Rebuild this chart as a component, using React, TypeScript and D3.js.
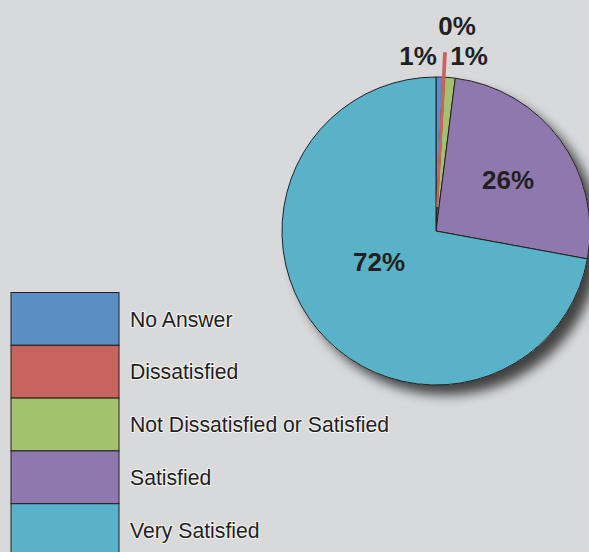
import React from 'react';
import * as d3 from 'd3';

// slice values (share of answers, %)
const categories = ['No Answer', 'Dissatisfied', 'Not Dissatisfied or Satisfied', 'Satisfied', 'Very Satisfied'];
const values = [0.7, 0.2, 1.1, 25.9, 72.1];
const labels = ['1%', '0%', '1%', '26%', '72%'];
const colors = ['#5b8ec2', '#c8645e', '#a3c16f', '#8e78ae', '#59b2c8'];

const W = 589;
const H = 552;
const cx = 436;
const cy = 231;
const R = 154;

// label spots relative to pie centre
const labelOffsets: [number, number][] = [[-18, -175], [21, -205], [33, -175], [72, -51], [-57, 31]];

export default function App() {
  const pie = d3.pie<number>().sort(null).value((d) => d);
  const arcs = pie(values);
  const arc = d3.arc<d3.PieArcDatum<number>>().innerRadius(0).outerRadius(R);

  const rowH = 52.8;
  const legendTop = 292.5;

  return (
    <div style={{ position: 'absolute', left: 0, top: 0 }}>
      <svg width={W} height={H} style={{ display: 'block', fontFamily: 'Liberation Sans, Arial, sans-serif' }}>
        <defs>
          <filter id="shadow" x="-20%" y="-20%" width="150%" height="150%">
            <feGaussianBlur in="SourceAlpha" stdDeviation="6" />
            <feOffset dx="10" dy="10" result="blur" />
            <feComponentTransfer>
              <feFuncA type="linear" slope="0.7" />
            </feComponentTransfer>
            <feMerge>
              <feMergeNode />
              <feMergeNode in="SourceGraphic" />
            </feMerge>
          </filter>
        </defs>
        <rect width={W} height={H} fill="#d8d9db" />

        <g transform={`translate(${cx},${cy})`}>
          <circle r={R} fill="#fff" filter="url(#shadow)" />
          {arcs.map((a, i) => {
            if (i === 1) return null;
            return <path key={i} d={arc(a) || ''} fill={colors[i]} stroke="#231f20" strokeWidth={1} />;
          })}
          {(() => {
            // the 0% slice is pulled out of the pie, so it shows as a thin red line
            const a = arcs[1];
            const mid = (a.startAngle + a.endAngle) / 2;
            const off = 24;
            const dx = Math.sin(mid) * off;
            const dy = -Math.cos(mid) * off;
            return (
              <path d={arc(a) || ''} transform={`translate(${dx},${dy})`} fill={colors[1]} stroke={colors[1]} strokeWidth={2} />
            );
          })()}
          {arcs.map((a, i) => {
            const [x, y] = labelOffsets[i];
            return (
              <text key={i} x={x} y={y} textAnchor="middle" dy="0.36em" fontSize={26} fontWeight="bold" fill="#231f20">
                {labels[i]}
              </text>
            );
          })}
        </g>

        <g>
          {categories.map((c, i) => (
            <g key={c} transform={`translate(0,${legendTop + i * rowH})`}>
              <rect x={11} y={0} width={108} height={rowH} fill={colors[i]} stroke="#231f20" strokeWidth={1} />
              <text x={130} y={34} fontSize={21.2} fill="#231f20" stroke="#f4f4f4" strokeWidth={2} paintOrder="stroke">
                {c}
              </text>
            </g>
          ))}
        </g>
      </svg>
    </div>
  );
}
